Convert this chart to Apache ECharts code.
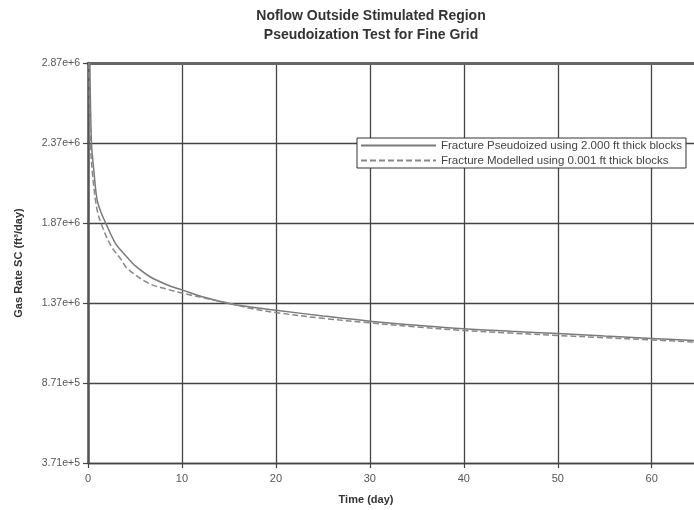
<!DOCTYPE html>
<html><head><meta charset="utf-8">
<script src="https://cdn.jsdelivr.net/npm/echarts@6/dist/echarts.min.js"></script>
<style>html,body{margin:0;padding:0;background:#fff}#c{width:694px;height:510px}</style>
</head><body><div id="c"></div>
<script>
const titleText = 'Noflow Outside Stimulated Region\nPseudoization Test for Fine Grid';
const xName = 'Time (day)';
const yName = 'Gas Rate SC (ft³/day)';
const seriesNames = ['Fracture Pseudoized using 2.000 ft thick blocks', 'Fracture Modelled using 0.001 ft thick blocks'];
const xTicks = [0, 10, 20, 30, 40, 50, 60];
const yTicks = [371000, 871000, 1371000, 1871000, 2371000, 2871000];
const xMin = 0, xMax = 64.5, yMin = 371000, yMax = 2871000;

const solidTime = [0.2, 0.37, 0.61, 0.96, 1.4, 1.85, 2.9, 3.5, 4.35, 4.9, 6.6, 8.4, 10, 12.5, 15, 17.5, 20, 25, 30, 35, 40, 45, 50, 55, 60, 64.5];
const solidRate = [2871000, 2372000, 2206000, 2019000, 1935000, 1875000, 1745000, 1700000, 1645000, 1610000, 1535000, 1485000, 1453000, 1405000, 1368000, 1345000, 1326000, 1290000, 1257000, 1232000, 1210000, 1194000, 1180000, 1164000, 1149000, 1136000];

const dashedTime = [0.1, 0.26, 0.5, 0.96, 1.5, 2.45, 3.5, 4.2, 6.6, 8.4, 10, 13.1, 15, 17.5, 20, 25, 30, 35, 40, 45, 50, 55, 60, 64.5];
const dashedRate = [2871000, 2372000, 2164000, 1956000, 1852000, 1727000, 1645000, 1585000, 1490000, 1458000, 1433000, 1393000, 1370000, 1335000, 1311000, 1275000, 1247000, 1221000, 1199000, 1183000, 1168000, 1154000, 1140000, 1127000];

const FONT = 'Liberation Sans, Arial, Helvetica, sans-serif';
const pairs = (xs, ys) => xs.map((x, i) => [x, ys[i]]);

const chart = echarts.init(document.getElementById('c'), null, {renderer: 'canvas'});
chart.setOption({
  animation: false,
  backgroundColor: '#fff',
  title: {
    text: titleText,
    left: 366, top: 2, textAlign: 'center',
    textStyle: {fontFamily: FONT, fontSize: 14, fontWeight: 'bold', color: '#333', lineHeight: 18.5}
  },
  legend: {
    left: 357, top: 138, orient: 'vertical',
    itemWidth: 75, itemHeight: 13, itemGap: 2,
    padding: [1, 4, 1, 3],
    backgroundColor: '#fff', borderColor: '#333', borderWidth: 1,
    itemStyle: {opacity: 0, color: 'rgba(0,0,0,0)', borderWidth: 0},
    textStyle: {fontFamily: FONT, fontSize: 11.5, color: '#444', lineHeight: 13},
    data: seriesNames
  },
  grid: {left: 88, top: 63, right: -10, bottom: 46, containLabel: false},
  xAxis: [{
    type: 'value', min: xMin, max: xMax,
    name: xName, nameLocation: 'middle', nameGap: 31,
    nameTextStyle: {fontFamily: FONT, fontSize: 11, fontWeight: 'bold', color: '#333', verticalAlign: 'top', padding: [0, 50, 0, 0]},
    axisLine: {show: true, lineStyle: {color: '#444', width: 1.3}},
    axisTick: {show: true, length: 5, customValues: xTicks, lineStyle: {color: '#444', width: 1.2}},
    axisLabel: {customValues: xTicks, fontFamily: FONT, fontSize: 11, color: '#555', margin: 10},
    splitLine: {show: true, lineStyle: {color: '#444', width: 1.3}}
  }, {
    type: 'value', min: xMin, max: xMax, position: 'top',
    axisLine: {show: true, lineStyle: {color: '#666', width: 3}},
    axisTick: {show: false}, axisLabel: {show: false}, splitLine: {show: false}
  }],
  yAxis: {
    type: 'value', min: yMin, max: yMax,
    name: yName, nameLocation: 'middle', nameGap: 64,
    nameTextStyle: {fontFamily: FONT, fontSize: 11, fontWeight: 'bold', color: '#333'},
    axisLine: {show: true, lineStyle: {color: '#555', width: 2.5}},
    axisTick: {show: true, length: 5, customValues: yTicks, lineStyle: {color: '#444', width: 1.2}},
    axisLabel: {customValues: yTicks, fontFamily: FONT, fontSize: 10.5, color: '#555', margin: 8,
      formatter: v => v.toExponential(2)},
    splitLine: {show: true, lineStyle: {color: '#444', width: 1.3}}
  },
  series: [{
    name: seriesNames[0], type: 'line', xAxisIndex: 0, symbol: 'none',
    smooth: 0.35,
    data: pairs(solidTime, solidRate),
    lineStyle: {color: '#7a7a7a', width: 1.5, type: 'solid'},
    itemStyle: {color: 'rgba(0,0,0,0)'}
  }, {
    name: seriesNames[1], type: 'line', xAxisIndex: 0, symbol: 'none',
    smooth: 0.35,
    data: pairs(dashedTime, dashedRate),
    lineStyle: {color: '#888', width: 1.5, type: [6, 3]},
    itemStyle: {color: 'rgba(0,0,0,0)'}
  }]
});
</script>
</body></html>
